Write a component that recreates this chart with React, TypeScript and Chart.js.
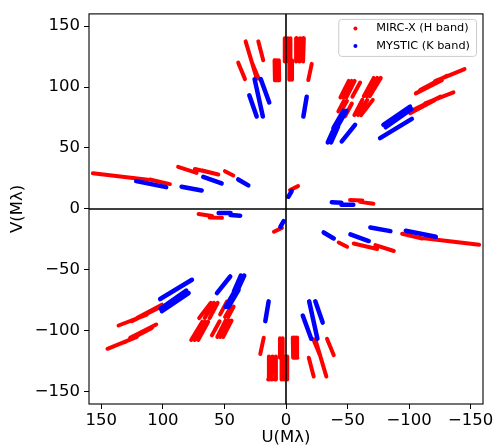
import React, { useEffect, useRef } from 'react';
import { Chart, registerables } from 'chart.js';

Chart.register(...registerables);

const FONT = '"DejaVu Sans", "Liberation Sans", sans-serif';

const tickValues = [-150, -100, -50, 0, 50, 100, 150];
const axisMin = -160;
const axisMax = 160;
const xTitle = 'U(Mλ)';
const yTitle = 'V(Mλ)';

const seriesLabels = ['MIRC-X (H band)', 'MYSTIC (K band)'];
const seriesColors = ['#ff0000', '#0000ff'];

// Baseline tracks, in Mλ: [u start, v start, u end, v end].
// Only the upper half-plane is listed; each track also appears at (-u, -v).
const mircTracks: number[][] = [
  [156.9, 29.3, 112.2, 24.0],
  [110.6, 24.2, 94.3, 20.4],
  [87.6, 34.5, 72.6, 29.6],
  [74.0, 32.8, 60.0, 29.5],
  [68.0, 31.5, 55.0, 28.3],
  [49.6, 31.0, 42.8, 27.5],
  [32.8, 137.5, 23.8, 107.0],
  [28.0, 121.0, 22.3, 107.0],
  [22.5, 137.5, 18.5, 122.0],
  [38.8, 120.0, 33.3, 106.5],
  [9.3, 122.0, 9.0, 105.5],
  [7.5, 122.0, 7.2, 105.5],
  [5.8, 122.0, 5.5, 105.5],
  [1.0, 140.0, 1.0, 121.0],
  [-1.5, 140.0, -1.5, 121.0],
  [-3.6, 140.0, -3.6, 121.0],
  [-2.7, 122.0, -2.7, 106.0],
  [-4.9, 122.0, -4.9, 106.0],
  [-8.8, 140.0, -8.2, 121.0],
  [-11.6, 140.0, -11.0, 121.0],
  [-14.5, 140.0, -13.9, 121.0],
  [-20.9, 119.0, -18.1, 105.7],
  [-44.2, 91.5, -51.0, 105.0],
  [-46.6, 91.5, -53.4, 105.0],
  [-49.0, 91.5, -55.8, 105.0],
  [-53.9, 92.1, -60.2, 103.7],
  [-63.2, 92.5, -71.3, 107.5],
  [-65.6, 92.5, -74.2, 107.5],
  [-68.0, 92.5, -77.0, 107.5],
  [-55.5, 77.0, -62.0, 89.5],
  [-58.5, 77.0, -66.0, 89.5],
  [-61.0, 77.0, -70.5, 89.5],
  [-48.0, 76.0, -53.5, 86.5],
  [-42.5, 80.0, -47.0, 88.6],
  [-44.8, 80.4, -49.5, 88.6],
  [-105.4, 94.8, -126.6, 105.7],
  [-108.9, 97.6, -130.7, 109.2],
  [-121.1, 104.9, -145.0, 114.7],
  [-100.8, 78.5, -121.1, 89.4],
  [-103.5, 81.3, -125.2, 92.1],
  [-113.0, 86.6, -136.0, 95.6],
  [-3.3, 15.5, -9.8, 18.7],
  [-52.0, 7.3, -62.0, 7.0],
  [-60.0, 5.8, -71.0, 4.2],
];

const mysticTracks: number[][] = [
  [121.7, 22.8, 97.3, 17.9],
  [67.2, 26.3, 52.3, 20.9],
  [38.8, 24.2, 30.6, 19.3],
  [84.8, 18.2, 68.5, 15.2],
  [25.5, 106.5, 18.8, 75.8],
  [29.8, 93.2, 23.8, 75.8],
  [20.5, 106.5, 13.6, 87.4],
  [-16.8, 92.0, -14.1, 75.8],
  [-33.9, 54.6, -39.8, 67.6],
  [-36.6, 54.6, -42.3, 67.6],
  [-38.5, 66.3, -46.6, 80.4],
  [-41.0, 66.3, -49.0, 80.4],
  [-45.3, 55.4, -56.1, 69.0],
  [-79.1, 69.0, -100.8, 83.9],
  [-81.0, 67.0, -101.8, 81.8],
  [-76.4, 58.1, -102.2, 73.9],
  [-1.9, 10.0, -4.6, 14.7],
  [-37.2, 5.5, -45.0, 5.0],
  [-45.0, 3.4, -54.7, 3.4],
];

type Pt = { x: number | null; y: number | null };

function buildTrackPoints(tracks: number[][]): Pt[] {
  const pts: Pt[] = [];
  for (const [u1, v1, u2, v2] of tracks) {
    pts.push({ x: u1, y: v1 }, { x: u2, y: v2 }, { x: null, y: null });
    pts.push({ x: -u1, y: -v1 }, { x: -u2, y: -v2 }, { x: null, y: null });
  }
  return pts;
}

const fmtTick = (v: number) => (v < 0 ? '\u2212' + Math.abs(v) : String(v));

const overlayPlugin = {
  id: 'overlay',
  afterDatasetsDraw(chart: any) {
    const { ctx, chartArea: a, scales } = chart;
    const x0 = scales.x.getPixelForValue(0);
    const y0 = scales.y.getPixelForValue(0);
    ctx.save();
    ctx.strokeStyle = '#000';
    ctx.lineWidth = 1.6;
    ctx.beginPath();
    ctx.moveTo(a.left, y0);
    ctx.lineTo(a.right, y0);
    ctx.moveTo(x0, a.top);
    ctx.lineTo(x0, a.bottom);
    ctx.stroke();

    ctx.lineWidth = 1.1;
    ctx.strokeRect(a.left, a.top, a.right - a.left, a.bottom - a.top);

    // legend
    const ds = chart.data.datasets;
    ctx.font = `11.3px ${FONT}`;
    let textW = 0;
    for (const d of ds) textW = Math.max(textW, ctx.measureText(d.label).width);
    const boxW = 37.5 + textW + 6.5;
    const boxH = 37;
    const bx = a.right - 6.5 - boxW;
    const by = a.top + 5.5;
    const r = 3;
    ctx.beginPath();
    ctx.moveTo(bx + r, by);
    ctx.lineTo(bx + boxW - r, by);
    ctx.arcTo(bx + boxW, by, bx + boxW, by + r, r);
    ctx.lineTo(bx + boxW, by + boxH - r);
    ctx.arcTo(bx + boxW, by + boxH, bx + boxW - r, by + boxH, r);
    ctx.lineTo(bx + r, by + boxH);
    ctx.arcTo(bx, by + boxH, bx, by + boxH - r, r);
    ctx.lineTo(bx, by + r);
    ctx.arcTo(bx, by, bx + r, by, r);
    ctx.closePath();
    ctx.fillStyle = 'rgba(255,255,255,0.8)';
    ctx.fill();
    ctx.strokeStyle = '#cccccc';
    ctx.lineWidth = 1;
    ctx.stroke();

    ctx.textBaseline = 'middle';
    ctx.textAlign = 'left';
    ds.forEach((d: any, i: number) => {
      const cy = by + 9 + i * 17.5;
      ctx.fillStyle = d.borderColor;
      ctx.beginPath();
      ctx.arc(bx + 16.7, cy, 2, 0, Math.PI * 2);
      ctx.fill();
      ctx.fillStyle = '#000';
      ctx.fillText(d.label, bx + 37.5, cy);
    });
    ctx.restore();
  },
};

export default function App() {
  const ref = useRef<HTMLCanvasElement | null>(null);

  useEffect(() => {
    if (!ref.current) return;
    const tickFont = { family: FONT, size: 16.5 };
    const setTicks = (scale: any) => {
      scale.ticks = tickValues.map((v) => ({ value: v }));
    };
    const chart = new Chart(ref.current, {
      type: 'scatter',
      data: {
        datasets: [
          {
            label: seriesLabels[0],
            data: buildTrackPoints(mircTracks) as any,
            borderColor: seriesColors[0],
            backgroundColor: seriesColors[0],
            showLine: true,
            spanGaps: false,
            borderWidth: 4,
            borderCapStyle: 'round',
            borderJoinStyle: 'round',
            pointRadius: 0,
            pointHoverRadius: 0,
            order: 1,
          },
          {
            label: seriesLabels[1],
            data: buildTrackPoints(mysticTracks) as any,
            borderColor: seriesColors[1],
            backgroundColor: seriesColors[1],
            showLine: true,
            spanGaps: false,
            borderWidth: 4.5,
            borderCapStyle: 'round',
            borderJoinStyle: 'round',
            pointRadius: 0,
            pointHoverRadius: 0,
            order: 0,
          },
        ],
      },
      options: {
        animation: false,
        responsive: false,
        devicePixelRatio: 1,
        layout: { padding: { left: 0, right: 12, top: 12, bottom: 0 } },
        plugins: {
          legend: { display: false },
          tooltip: { enabled: false },
        },
        events: [],
        scales: {
          x: {
            type: 'linear',
            reverse: true,
            min: axisMin,
            max: axisMax,
            afterBuildTicks: setTicks,
            afterFit: (s: any) => {
              s.height = 44;
            },
            ticks: {
              font: tickFont,
              color: '#000',
              padding: 2,
              maxRotation: 0,
              autoSkip: false,
              callback: (v: any) => fmtTick(Number(v)),
            },
            grid: {
              drawOnChartArea: false,
              drawTicks: true,
              tickLength: 5,
              color: '#000',
              tickColor: '#000',
            },
            border: { display: false },
            title: {
              display: true,
              text: xTitle,
              font: tickFont,
              color: '#000',
              padding: { top: 0, bottom: 0 },
            },
          },
          y: {
            type: 'linear',
            min: axisMin,
            max: axisMax,
            afterBuildTicks: setTicks,
            afterFit: (s: any) => {
              s.width = 89;
            },
            ticks: {
              font: tickFont,
              color: '#000',
              padding: 4,
              autoSkip: false,
              callback: (v: any) => fmtTick(Number(v)),
            },
            grid: {
              drawOnChartArea: false,
              drawTicks: true,
              tickLength: 5,
              color: '#000',
              tickColor: '#000',
            },
            border: { display: false },
            title: {
              display: true,
              text: yTitle,
              font: tickFont,
              color: '#000',
              padding: { top: 8, bottom: 0 },
            },
          },
        },
      },
      plugins: [overlayPlugin],
    } as any);
    return () => chart.destroy();
  }, []);

  return (
    <div style={{ position: 'fixed', left: 0, top: 0, width: 495, height: 448, background: '#fff' }}>
      <canvas ref={ref} width={495} height={448} style={{ width: 495, height: 448, display: 'block' }} />
    </div>
  );
}
